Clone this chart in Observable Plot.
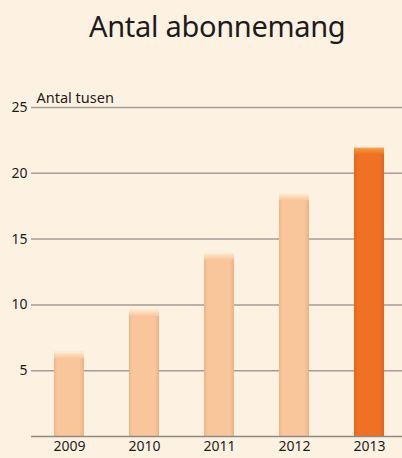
<!DOCTYPE html>
<html><head><meta charset="utf-8">
<script src="https://cdn.jsdelivr.net/npm/d3@7"></script>
<script src="https://cdn.jsdelivr.net/npm/@observablehq/plot@0.6"></script>
<style>
html,body{margin:0;padding:0;background:#fdf2e2;width:402px;height:458px;overflow:hidden;font-family:"Noto Sans",sans-serif;}
#title{height:70px;box-sizing:border-box;padding-top:6px;padding-left:89px;font-size:29px;line-height:40px;color:#1e1b1c;letter-spacing:-0.3px;}
#chart svg{display:block;}
</style></head>
<body>
<div id="title">Antal abonnemang</div>
<div id="chart"></div>
<script>
const years = ["2009","2010","2011","2012","2013"];
const values = [6.4, 9.6, 13.9, 18.4, 21.9];
const highlight = [false,false,false,false,true];
const yTicks = [5,10,15,20,25];
const unitLabel = "Antal tusen";

const data = years.map((y,i)=>({year:y, value:values[i], hi:highlight[i]}));

const plot = Plot.plot({
  width: 402,
  height: 388,
  marginLeft: 31,
  marginRight: 0,
  marginTop: 37,
  marginBottom: 22,
  style: {background: "transparent", fontFamily: "Noto Sans, sans-serif", fontSize: "14px", color: "#1e1b1c"},
  x: {domain: years, range: [30.4, 407.9], paddingInner: 0.6, paddingOuter: 0.3, label: null},
  y: {domain: [0, 25], label: null},
  marks: [
    Plot.ruleY(yTicks, {stroke: "#a39d97", strokeWidth: 1.5}),
    Plot.barY(data, {x: "year", y: "value", inset: 0, fill: d => d.hi ? "url(#gradHi)" : "url(#gradLo)"}),
    Plot.barY(data, {x: "year", y1: d => d.value - 0.5, y2: "value", inset: 0, fill: d => d.hi ? "url(#capHi)" : "url(#capLo)"}),
    Plot.ruleY([0], {stroke: "#8f8a85", strokeWidth: 1.5}),
    Plot.axisY({ticks: yTicks, tickSize: 0, tickPadding: 4, fontSize: 14}),
    Plot.axisX({tickSize: 0, tickPadding: 5, fontSize: 14}),
    Plot.text([unitLabel], {frameAnchor: "top-left", dx: 5, dy: -15, fontSize: 14.5, textAnchor: "start"})
  ]
});

const ns = "http://www.w3.org/2000/svg";
const defs = document.createElementNS(ns, "defs");
defs.innerHTML = `
<linearGradient id="gradLo" x1="0" x2="1" y1="0" y2="0">
  <stop offset="0" stop-color="#f0b588"/><stop offset="0.12" stop-color="#f9c69c"/>
  <stop offset="0.85" stop-color="#f9c69c"/><stop offset="1" stop-color="#eeb184"/>
</linearGradient>
<linearGradient id="gradHi" x1="0" x2="1" y1="0" y2="0">
  <stop offset="0" stop-color="#e46520"/><stop offset="0.12" stop-color="#ee7124"/>
  <stop offset="0.85" stop-color="#ee7124"/><stop offset="1" stop-color="#e0641f"/>
</linearGradient>
<linearGradient id="capLo" x1="0" x2="0" y1="0" y2="1">
  <stop offset="0" stop-color="#fff2dc"/><stop offset="0.2" stop-color="#fde3c3"/><stop offset="1" stop-color="#f9c69c"/>
</linearGradient>
<linearGradient id="capHi" x1="0" x2="0" y1="0" y2="1">
  <stop offset="0" stop-color="#f8a852"/><stop offset="0.2" stop-color="#f4943e"/><stop offset="1" stop-color="#ee7124"/>
</linearGradient>`;
plot.insertBefore(defs, plot.firstChild);
document.getElementById("chart").appendChild(plot);
</script>
</body></html>
